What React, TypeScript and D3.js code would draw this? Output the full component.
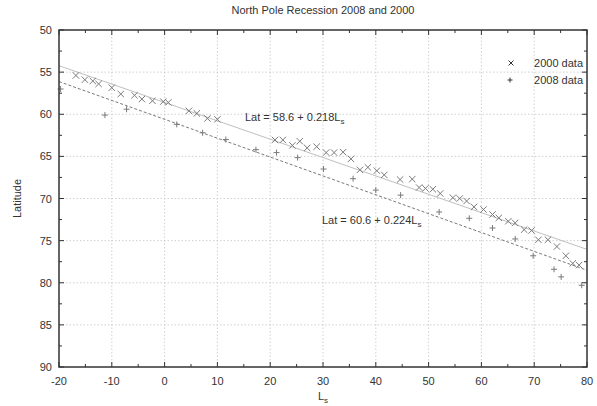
import * as d3 from 'd3';

// 2000 season: [Ls, latitude] of the cap edge
const data2000: [number, number][] = [
  [-16.8, 55.4], [-15.1, 55.9], [-13.6, 56.05], [-12.5, 56.4], [-10, 56.85],
  [-8.3, 57.6], [-5.7, 57.75], [-4.3, 58.2], [-2.3, 58.4], [-0.25, 58.5],
  [0.7, 58.6], [4.6, 59.6], [6.1, 59.9], [8.1, 60.5], [10, 60.6],
  [20.9, 63.05], [22.4, 63.05], [24.2, 63.7], [25.6, 63.2], [27.0, 64.0],
  [28.8, 63.85], [30.6, 64.55], [32.1, 64.55], [33.8, 64.5], [35.3, 65.3],
  [37.0, 66.6], [38.5, 66.3], [40.2, 66.7], [41.6, 67.2], [44.6, 67.75],
  [46.9, 67.7], [48.2, 68.7], [49.4, 68.8], [50.8, 68.9], [52.2, 69.4],
  [54.6, 69.9], [55.9, 70.0], [57.2, 70.3], [58.6, 71.0], [60.4, 71.3],
  [62.1, 71.9], [63.3, 72.3], [65.1, 72.7], [66.4, 72.9], [68.1, 73.7],
  [69.5, 73.8], [70.8, 74.9], [72.6, 74.9], [74.3, 75.7], [76.0, 76.8],
  [77.3, 77.7], [78.5, 77.9],
];

// 2008 season
const data2008: [number, number][] = [
  [-19.7, 57.0], [-11.3, 60.1], [-7.2, 59.4], [2.3, 61.2], [7.2, 62.2],
  [11.6, 63.0], [17.3, 64.2], [21.2, 64.55], [25.2, 65.15], [30.1, 66.5],
  [35.7, 67.65], [40.0, 69.0], [44.7, 69.6], [52.0, 71.6], [57.7, 72.35],
  [62.1, 73.5], [66.4, 74.8], [69.8, 76.8], [73.75, 78.4], [75.1, 79.3],
  [79.0, 80.3],
];

// linear fits: [intercept, slope]
const fit2000: [number, number] = [58.6, 0.218];
const fit2008: [number, number] = [60.6, 0.224];

const xTicks = [-20, -10, 0, 10, 20, 30, 40, 50, 60, 70, 80];
const xMinor = [-15, -5, 5, 15, 25, 35, 45, 55, 65, 75];
const yTicks = [50, 55, 60, 65, 70, 75, 80, 85, 90];
const yMinor = [52.5, 57.5, 62.5, 67.5, 72.5, 77.5, 82.5, 87.5];

const W = 597;
const H = 406;
const left = 59;
const right = 587;
const top = 30;
const bottom = 367;
const font = '"Liberation Sans", Arial, sans-serif';
const ink = '#333';
const markColor = '#7a7a7a';

export default function App() {
  const x = d3.scaleLinear().domain([-20, 80]).range([left, right]);
  // latitude grows downward
  const y = d3.scaleLinear().domain([50, 90]).range([top, bottom]);

  const fitLine = (f: [number, number]) =>
    d3.line<number>().x((ls) => x(ls)).y((ls) => y(f[0] + f[1] * ls))([-20, 80]) || '';

  const cross = (cx: number, cy: number, r = 3.2) =>
    `M${cx - r},${cy - r}L${cx + r},${cy + r}M${cx - r},${cy + r}L${cx + r},${cy - r}`;
  const plus = (cx: number, cy: number, r = 3) =>
    `M${cx - r},${cy}L${cx + r},${cy}M${cx},${cy - r}L${cx},${cy + r}`;

  return (
    <svg
      width={W}
      height={H}
      style={{ position: 'absolute', left: 0, top: 0, background: '#fff' }}
      fontFamily={font}
    >
      <rect width={W} height={H} fill="#fff" />
      <text x={323} y={14} textAnchor="middle" fontSize={11} fill={ink}>
        North Pole Recession 2008 and 2000
      </text>

      {/* grid */}
      <g stroke="#c4c4c4" strokeWidth={0.8} strokeDasharray="1.5,2">
        {xTicks.slice(1, -1).map((t) => (
          <line key={'gx' + t} x1={x(t)} x2={x(t)} y1={top} y2={bottom} />
        ))}
        {yTicks.slice(1, -1).map((t) => (
          <line key={'gy' + t} x1={left} x2={right} y1={y(t)} y2={y(t)} />
        ))}
      </g>

      {/* ticks, mirrored on all sides */}
      <g stroke={ink} strokeWidth={1}>
        {xTicks.map((t) => (
          <g key={'tx' + t}>
            <line x1={x(t)} x2={x(t)} y1={bottom} y2={bottom - 5} />
            <line x1={x(t)} x2={x(t)} y1={top} y2={top + 5} />
          </g>
        ))}
        {xMinor.map((t) => (
          <g key={'mx' + t}>
            <line x1={x(t)} x2={x(t)} y1={bottom} y2={bottom - 3} />
            <line x1={x(t)} x2={x(t)} y1={top} y2={top + 3} />
          </g>
        ))}
        {yTicks.map((t) => (
          <g key={'ty' + t}>
            <line x1={left} x2={left + 5} y1={y(t)} y2={y(t)} />
            <line x1={right} x2={right - 5} y1={y(t)} y2={y(t)} />
          </g>
        ))}
        {yMinor.map((t) => (
          <g key={'my' + t}>
            <line x1={left} x2={left + 3} y1={y(t)} y2={y(t)} />
            <line x1={right} x2={right - 3} y1={y(t)} y2={y(t)} />
          </g>
        ))}
      </g>

      {/* fits */}
      <path d={fitLine(fit2000)} fill="none" stroke="#c0c0c0" strokeWidth={1} />
      <path d={fitLine(fit2008)} fill="none" stroke="#7a7a7a" strokeWidth={1} strokeDasharray="3,2" />

      {/* points */}
      <g stroke={markColor} strokeWidth={1} fill="none">
        {data2000.map(([ls, lat], i) => (
          <path key={'a' + i} d={cross(x(ls), y(lat))} />
        ))}
        {data2008.map(([ls, lat], i) => (
          <path key={'b' + i} d={plus(x(ls), y(lat))} />
        ))}
      </g>

      {/* frame */}
      <rect x={left} y={top} width={right - left} height={bottom - top} fill="none" stroke={ink} strokeWidth={1.5} />

      {/* tick labels */}
      <g fontSize={11} fill={ink}>
        {xTicks.map((t) => (
          <text key={'lx' + t} x={x(t)} y={bottom + 18} textAnchor="middle">
            {t}
          </text>
        ))}
        {yTicks.map((t) => (
          <text key={'ly' + t} x={left - 7} y={y(t) + 4} textAnchor="end">
            {t}
          </text>
        ))}
      </g>

      {/* axis titles */}
      <text x={x(30)} y={400} textAnchor="middle" fontSize={11} fill={ink}>
        L<tspan fontSize={8} dy={3}>s</tspan>
      </text>
      <text
        transform={`translate(21,${y(70)}) rotate(-90)`}
        textAnchor="middle"
        fontSize={11}
        fill={ink}
      >
        Latitude
      </text>

      {/* fit equations */}
      <text x={245} y={121} fontSize={11} fill={ink}>
        Lat = 58.6 + 0.218L<tspan fontSize={8} dy={3}>s</tspan>
      </text>
      <text x={322} y={224} fontSize={11} fill={ink}>
        Lat = 60.6 + 0.224L<tspan fontSize={8} dy={3}>s</tspan>
      </text>

      {/* legend */}
      <g fontSize={11} fill={ink}>
        <text x={583} y={67} textAnchor="end">2000 data</text>
        <text x={583} y={84} textAnchor="end">2008 data</text>
      </g>
      <g stroke={ink} strokeWidth={1} fill="none">
        <path d={cross(511, 63, 2.5)} />
        <path d={plus(510, 80, 2.5)} />
      </g>
    </svg>
  );
}
